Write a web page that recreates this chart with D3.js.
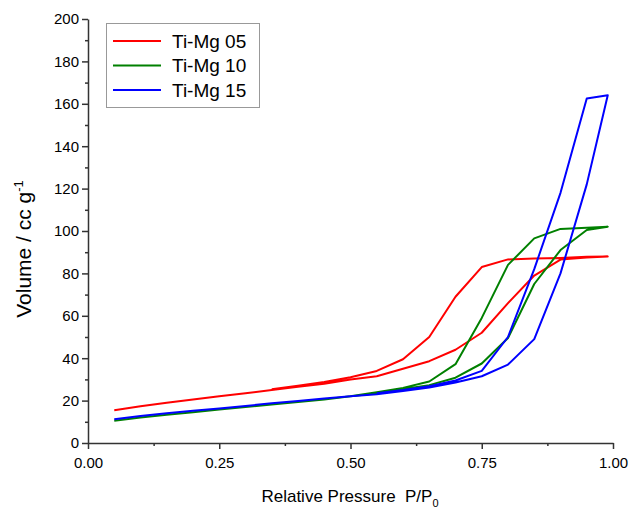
<!DOCTYPE html>
<html>
<head>
<meta charset="utf-8">
<script src="https://cdn.jsdelivr.net/npm/d3@7"></script>
<style>
  body { margin: 0; background: #fff; }
  svg { font-family: "Liberation Sans", Arial, sans-serif; }
</style>
</head>
<body>
<div id="chart"></div>
<script>
// Ti-Mg 05: adsorption then desorption branch
const p05 = [0.05, 0.10, 0.15, 0.20, 0.25, 0.30, 0.35, 0.40, 0.45, 0.50, 0.55, 0.60, 0.65, 0.70, 0.75, 0.80, 0.85, 0.90, 0.95, 0.99,
             0.95, 0.90, 0.85, 0.80, 0.75, 0.70, 0.65, 0.60, 0.55, 0.50, 0.45, 0.40, 0.35];
const v05 = [15.5, 17.3, 19.0, 20.5, 22.0, 23.5, 25.0, 26.5, 28.0, 30.0, 31.5, 35.0, 38.6, 44.0, 52.0, 66.0, 79.0, 86.5, 87.5, 88.0,
             87.8, 87.3, 87.0, 86.6, 83.0, 69.0, 50.0, 39.5, 34.0, 31.0, 28.8, 27.0, 25.3];

const p10 = [0.05, 0.10, 0.15, 0.20, 0.25, 0.30, 0.35, 0.40, 0.45, 0.50, 0.55, 0.60, 0.65, 0.70, 0.75, 0.80, 0.85, 0.90, 0.95, 0.99,
             0.95, 0.90, 0.85, 0.80, 0.75, 0.70, 0.65, 0.60, 0.55, 0.50];
const v10 = [10.5, 12.0, 13.3, 14.5, 15.8, 17.0, 18.2, 19.3, 20.5, 22.0, 23.5, 25.5, 27.3, 30.8, 37.5, 49.5, 75.0, 91.0, 100.5, 102.0,
             101.5, 101.0, 96.5, 84.0, 59.0, 37.2, 29.0, 26.0, 24.0, 22.0];

const p15 = [0.05, 0.10, 0.15, 0.20, 0.25, 0.30, 0.35, 0.40, 0.45, 0.50, 0.55, 0.60, 0.65, 0.70, 0.75, 0.80, 0.85, 0.90, 0.95, 0.99,
             0.95, 0.90, 0.85, 0.80, 0.75, 0.70, 0.65, 0.60, 0.55];
const v15 = [11.2, 12.7, 14.0, 15.2, 16.3, 17.5, 18.7, 19.8, 21.0, 22.0, 23.0, 24.5, 26.2, 28.5, 31.5, 37.0, 49.0, 80.0, 122.0, 164.0,
             162.5, 118.0, 82.0, 50.0, 34.0, 29.5, 26.8, 25.0, 23.5];

const seriesNames = ["Ti-Mg 05", "Ti-Mg 10", "Ti-Mg 15"];
const seriesColors = ["#ff0000", "#008000", "#0000ff"];
const xTicks = [0, 0.25, 0.5, 0.75, 1.0];
const yTicks = [0, 20, 40, 60, 80, 100, 120, 140, 160, 180, 200];

const width = 633, height = 512;
const margin = { top: 19, right: 20, bottom: 69, left: 88 };
const innerW = 613 - margin.left;
const innerH = 443 - margin.top;

const svg = d3.select("#chart").append("svg")
  .attr("width", width).attr("height", height);

const g = svg.append("g").attr("transform", `translate(${margin.left},${margin.top})`);

const x = d3.scaleLinear().domain([0, 1]).range([0, innerW]);
const y = d3.scaleLinear().domain([0, 200]).range([innerH, 0]);

const axisColor = "#333";

// minor ticks
g.append("g").attr("transform", `translate(0,${innerH})`)
  .call(d3.axisBottom(x).tickValues(d3.range(0.125, 1, 0.25)).tickSize(3).tickFormat(""))
  .call(s => s.select(".domain").remove())
  .call(s => s.selectAll("line").attr("stroke", axisColor).attr("stroke-width", 1.5));
g.append("g")
  .call(d3.axisLeft(y).tickValues(d3.range(10, 200, 20)).tickSize(3).tickFormat(""))
  .call(s => s.select(".domain").remove())
  .call(s => s.selectAll("line").attr("stroke", axisColor).attr("stroke-width", 1.5));

// major axes
const xAxis = g.append("g").attr("transform", `translate(0,${innerH})`)
  .call(d3.axisBottom(x).tickValues(xTicks).tickSize(6).tickSizeOuter(0).tickFormat(d3.format(".2f")));
const yAxis = g.append("g")
  .call(d3.axisLeft(y).tickValues(yTicks).tickSize(6).tickSizeOuter(0).tickFormat(d3.format("d")));

[xAxis, yAxis].forEach(a => {
  a.select(".domain").attr("stroke", axisColor).attr("stroke-width", 1.5);
  a.selectAll(".tick line").attr("stroke", axisColor).attr("stroke-width", 1.5);
  a.selectAll(".tick text").attr("fill", "#000").style("font-size", "15px");
});
xAxis.selectAll(".tick text").attr("dy", "1.05em");
yAxis.selectAll(".tick text").attr("x", -9);

// curves
const line = d3.line().x(d => x(d[0])).y(d => y(d[1]));
const allSeries = [[p05, v05], [p10, v10], [p15, v15]];
allSeries.forEach(([ps, vs], i) => {
  g.append("path")
    .datum(ps.map((p, k) => [p, vs[k]]))
    .attr("fill", "none")
    .attr("stroke", seriesColors[i])
    .attr("stroke-width", 2)
    .attr("stroke-linejoin", "round")
    .attr("d", line);
});

// axis titles
svg.append("text")
  .attr("x", 350).attr("y", 502)
  .attr("text-anchor", "middle")
  .style("font-size", "17px")
  .html('Relative Pressure&#160;&#160;P/P<tspan dy="5" font-size="11px">0</tspan>');

svg.append("text")
  .attr("transform", "translate(31,249) rotate(-90)")
  .attr("text-anchor", "middle")
  .style("font-size", "21px")
  .html('Volume / cc g<tspan dy="-8" font-size="13px">-1</tspan>');

// legend
const legend = svg.append("g");
legend.append("rect")
  .attr("x", 106.5).attr("y", 23.5).attr("width", 153).attr("height", 84)
  .attr("fill", "#fff").attr("stroke", "#999").attr("stroke-width", 1);
seriesNames.forEach((name, i) => {
  const ly = 41 + i * 24.5;
  legend.append("line")
    .attr("x1", 113).attr("x2", 161).attr("y1", ly).attr("y2", ly)
    .attr("stroke", seriesColors[i]).attr("stroke-width", 2);
  legend.append("text")
    .attr("x", 172).attr("y", ly + 6.5)
    .style("font-size", "19px")
    .text(name);
});
</script>
</body>
</html>
